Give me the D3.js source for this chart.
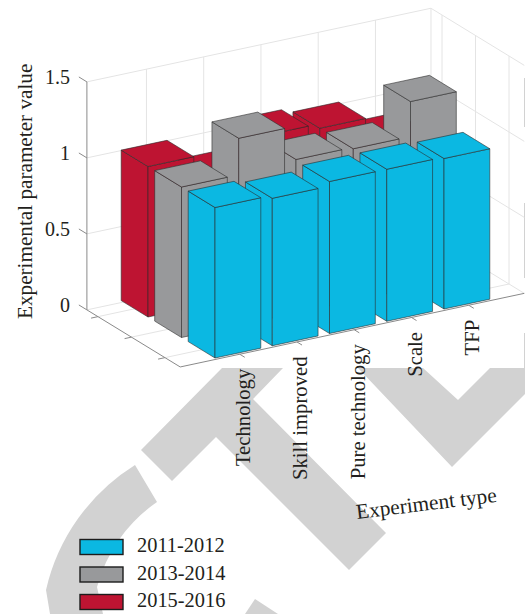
<!DOCTYPE html>
<html>
<head>
<meta charset="utf-8">
<script src="https://cdn.jsdelivr.net/npm/d3@7"></script>
<style>
  html, body { margin: 0; padding: 0; background: #fff; }
  svg { display: block; }
  text { font-family: "Liberation Serif", serif; fill: #231f20; }
</style>
</head>
<body>
<div id="chart"></div>
<script>
const categories = ["Technology", "Skill improved", "Pure technology", "Scale", "TFP"];
const seriesNames = ["2011-2012", "2013-2014", "2015-2016"];
const values2011 = [0.99, 0.97, 1.0, 1.0, 0.99];
const values2013 = [0.99, 1.23, 1.01, 1.0, 1.23];
const values2015 = [0.99, 0.85, 1.03, 1.0, 0.85];
const zTicks = [0, 0.5, 1, 1.5];
const seriesColors = ["#0bb8e2", "#98999b", "#be1432"];

const seriesValues = [values2011, values2013, values2015];
const width = 525, height = 614;
const barHalf = 0.4;

// axis limits in data units (category index, series index, value)
const uDomain = [-1.04, 4.97], vDomain = [-0.455, 2.33], zDomain = [0, 1.5];

// oblique projection, every axis adds to the pixel position
const uX = d3.scaleLinear().domain([0, 4]).range([0, 229]);
const uY = d3.scaleLinear().domain([0, 4]).range([0, -49]);
const vX = d3.scaleLinear().domain([0, 2]).range([0, -67]);
const vY = d3.scaleLinear().domain([0, 2]).range([0, -41]);
const zY = d3.scaleLinear().domain(zDomain).range([0, -228]);
const originX = 224.5, originY = 344.9;

function project(u, v, z) {
    return [originX + uX(u) + vX(v), originY + uY(u) + vY(v) + zY(z)];
}

const svg = d3.select("#chart")
    .append("svg")
    .attr("width", width)
    .attr("height", height);

// watermark behind the chart
const watermark = svg.append("g").attr("fill", "#d2d2d2");
watermark.append("path").attr("d", "M222,368L283,368L253,399L386,533L349,570L216,437L172,481L141,450Z");
watermark.append("path").attr("d", "M358,368L423,368L458,400L490,368L525,368L525,394L452,467Z");
watermark.append("path").attr("d", "M135,465L157,502A150,150 0 0 0 97,587L103,614L50,614L46,590A200,200 0 0 1 135,465Z");
watermark.append("path").attr("d", "M255,599L278,614L245,614Z");
watermark.append("rect").attr("x", 524).attr("y", 78).attr("width", 1).attr("height", 49);
watermark.append("rect").attr("x", 524).attr("y", 203).attr("width", 1).attr("height", 75);
watermark.append("rect").attr("x", 524).attr("y", 333).attr("width", 1).attr("height", 35);

const line = d3.line();

function segment(group, a, b, color, w) {
    group.append("path")
        .attr("d", line([a, b]))
        .attr("fill", "none")
        .attr("stroke", color)
        .attr("stroke-width", w);
}

// grid on the floor and the two walls
const grid = svg.append("g");
const gridColor = "#e4e4e4";
const [uMin, uMax] = uDomain, [vMin, vMax] = vDomain, zMax = zDomain[1];

categories.forEach((c, i) => {
    segment(grid, project(i, vMin, 0), project(i, vMax, 0), gridColor, 1);
    segment(grid, project(i, vMax, 0), project(i, vMax, zMax), gridColor, 1);
});
seriesNames.forEach((s, j) => {
    segment(grid, project(uMin, j, 0), project(uMax, j, 0), gridColor, 1);
    segment(grid, project(uMax, j, 0), project(uMax, j, zMax), gridColor, 1);
});
zTicks.forEach(t => {
    segment(grid, project(uMin, vMax, t), project(uMax, vMax, t), gridColor, 1);
    segment(grid, project(uMax, vMax, t), project(uMax, vMin, t), gridColor, 1);
});
segment(grid, project(uMax, vMax, 0), project(uMax, vMax, zMax), gridColor, 1);

// axes
const axes = svg.append("g");
const axisColor = "#8a8a8a";
segment(axes, project(uMin, vMax, 0), project(uMin, vMax, zMax), axisColor, 1);
segment(axes, project(uMin, vMax, 0), project(uMin, vMin, 0), axisColor, 1);
segment(axes, project(uMin, vMin, 0), project(uMax, vMin, 0), axisColor, 1);

zTicks.forEach(t => {
    const p = project(uMin, vMax, t);
    segment(axes, p, project(uMin, vMax + 0.24, t), axisColor, 1);
    axes.append("text")
        .attr("x", 70)
        .attr("y", p[1] + 2.5)
        .attr("text-anchor", "end")
        .attr("font-size", 20)
        .text(t);
});
seriesNames.forEach((s, j) => {
    segment(axes, project(uMin, j, 0), project(uMin - 0.12, j, 0), axisColor, 1);
});

// bars go back row first, and right to left inside a row
const bars = [];
for (let j = seriesNames.length - 1; j >= 0; j--) {
    for (let i = categories.length - 1; i >= 0; i--) {
        bars.push({ i: i, j: j, value: seriesValues[j][i] });
    }
}

function barFaces(d) {
    const u0 = d.i - barHalf, u1 = d.i + barHalf;
    const v0 = d.j - barHalf, v1 = d.j + barHalf;
    return [
        [project(u0, v1, 0), project(u0, v0, 0), project(u0, v0, d.value), project(u0, v1, d.value)],
        [project(u0, v0, 0), project(u1, v0, 0), project(u1, v0, d.value), project(u0, v0, d.value)],
        [project(u0, v0, d.value), project(u1, v0, d.value), project(u1, v1, d.value), project(u0, v1, d.value)]
    ];
}

svg.append("g")
    .selectAll("g")
    .data(bars)
    .join("g")
    .selectAll("path")
    .data(d => barFaces(d).map(f => ({ pts: f, j: d.j })))
    .join("path")
    .attr("d", d => line(d.pts) + "Z")
    .attr("fill", d => seriesColors[d.j])
    .attr("stroke", "#2b2b2b")
    .attr("stroke-opacity", 0.65)
    .attr("stroke-width", 0.9)
    .attr("stroke-linejoin", "round");

// category ticks and labels
categories.forEach((c, i) => {
    const p = project(i, vMin, 0);
    segment(axes, p, project(i, vMin - 0.15, 0), axisColor, 1);
});
const labels = svg.append("g");
categories.forEach((c, i) => {
    const p = project(i, vMin, 0);
    labels.append("text")
        .attr("transform", `translate(${p[0] + 10.5},${p[1] + 14.5}) rotate(-90)`)
        .attr("text-anchor", "end")
        .attr("font-size", 20.7)
        .text(c);
});

labels.append("text")
    .attr("transform", "translate(32,319) rotate(-90)")
    .attr("font-size", 21.2)
    .text("Experimental parameter value");

labels.append("text")
    .attr("transform", "translate(357,519) rotate(-7)")
    .attr("font-size", 21.3)
    .text("Experiment type");

// legend
const legendY = d3.scalePoint().domain(seriesNames).range([539.5, 594.5]);
const legend = svg.append("g");
seriesNames.forEach((s, j) => {
    legend.append("rect")
        .attr("x", 80)
        .attr("y", legendY(s))
        .attr("width", 43)
        .attr("height", 15)
        .attr("fill", seriesColors[j])
        .attr("stroke", "#1c1c1c")
        .attr("stroke-width", 1.4);
    legend.append("text")
        .attr("x", 137)
        .attr("y", legendY(s) + 12.5)
        .attr("font-size", 20.4)
        .text(s);
});
</script>
</body>
</html>
